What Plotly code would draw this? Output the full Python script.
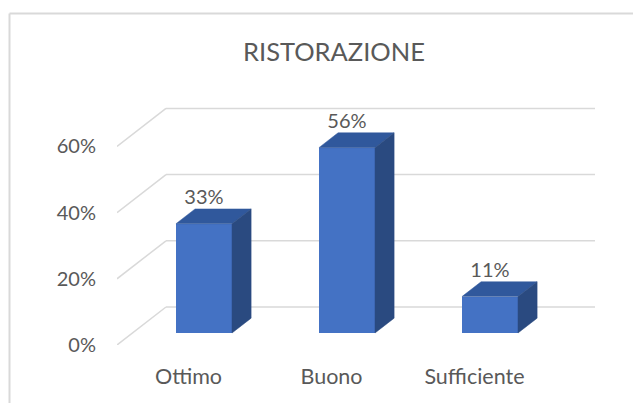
import plotly.graph_objects as go

# ---- data ----
categories = ["Ottimo", "Buono", "Sufficiente"]
values = [33, 56, 11]            # percent
tick_values = [0, 20, 40, 60]
title_text = "RISTORAZIONE"

# ---- layout geometry (pixels in the 641x403 window) ----
OFF = 8                          # page body margin of the html page
WIN_W, WIN_H = 641, 403
W, H = WIN_W - OFF, WIN_H - OFF  # figure size
PLOT_LEFT, PLOT_BOTTOM = 117, 345  # window px of front-plane origin
L_PX = PLOT_LEFT - OFF
B_PX = WIN_H - PLOT_BOTTOM
PX_PER_CAT = 143.0
PX_PER_PCT = 3.31
plot_w = W - L_PX
plot_h = H - B_PX

# depth vector (front plane -> back wall), in data units
DEPTH_PX = (49.0, 38.0)
Dx = DEPTH_PX[0] / PX_PER_CAT
Dy = DEPTH_PX[1] / PX_PER_PCT
BAR_FRONT = 0.316                # depth fraction of bar front face
BAR_DEPTH = 0.39                 # depth fraction occupied by the bar
BAR_W = 0.392

x_range = [-0.5, -0.5 + plot_w / PX_PER_CAT]
y_range = [0, plot_h / PX_PER_PCT]

TEXT = "#595959"
GRID = "#D9D9D9"
FRONT = "#4472C4"
TOP = "#30589C"
SIDE = "#2A4A80"
FONT = "Lato"

fig = go.Figure()

# bar front faces
fx = BAR_FRONT * Dx
fy = BAR_FRONT * Dy
bdx = BAR_DEPTH * Dx
bdy = BAR_DEPTH * Dy
xs = [i + fx for i in range(len(categories))]

fig.add_trace(go.Bar(
    x=xs, y=values, base=fy, width=BAR_W,
    marker=dict(color=FRONT, line=dict(width=0)),
    hovertext=categories, hoverinfo="text+y", showlegend=False,
))

# top and side faces
for xc, v in zip(xs, values):
    x0, x1 = xc - BAR_W / 2, xc + BAR_W / 2
    yb, yt = fy, fy + v
    fig.add_trace(go.Scatter(
        x=[x0, x1, x1 + bdx, x0 + bdx, x0],
        y=[yt, yt, yt + bdy, yt + bdy, yt],
        fill="toself", fillcolor=TOP, mode="lines",
        line=dict(width=0.5, color=TOP), hoverinfo="skip", showlegend=False,
    ))
    fig.add_trace(go.Scatter(
        x=[x1, x1 + bdx, x1 + bdx, x1, x1],
        y=[yb, yb + bdy, yt + bdy, yt, yb],
        fill="toself", fillcolor=SIDE, mode="lines",
        line=dict(width=0.5, color=SIDE), hoverinfo="skip", showlegend=False,
    ))

# data labels
fig.add_trace(go.Scatter(
    x=xs, y=[v + fy + bdy for v in values],
    text=[f"{v}%" for v in values], mode="text", textposition="top center",
    textfont=dict(family=FONT, size=20, color=TEXT),
    hoverinfo="skip", showlegend=False,
))

# gridlines: back wall + diagonal side wall
shapes = []
n = len(categories)
for t in tick_values:
    shapes.append(dict(type="line", xref="x", yref="y", layer="below",
                       x0=-0.5 + Dx, x1=n - 0.5 + Dx, y0=t + Dy, y1=t + Dy,
                       line=dict(color=GRID, width=1.5)))
    shapes.append(dict(type="line", xref="x", yref="y", layer="below",
                       x0=-0.5, x1=-0.5 + Dx, y0=t, y1=t + Dy,
                       line=dict(color=GRID, width=1.5)))

# chart border (left and top), window px -> paper coords
bx = (9.5 - PLOT_LEFT) / plot_w
by = (PLOT_BOTTOM - 13.5) / plot_h
ybot = (PLOT_BOTTOM - WIN_H - 10) / plot_h
shapes.append(dict(type="line", xref="paper", yref="paper",
                   x0=bx, x1=bx, y0=ybot, y1=by, line=dict(color=GRID, width=2)))
shapes.append(dict(type="line", xref="paper", yref="paper",
                   x0=bx, x1=1.05, y0=by, y1=by, line=dict(color=GRID, width=2)))

fig.update_layout(
    width=W, height=H,
    margin=dict(l=L_PX, r=0, t=0, b=B_PX, pad=0),
    paper_bgcolor="white", plot_bgcolor="white",
    shapes=shapes,
    title=dict(text=title_text, x=(334 - OFF) / W, xanchor="center", xref="container",
               y=1 - (52.5 - OFF) / H, yanchor="middle", yref="container",
               font=dict(family=FONT, size=25.5, color=TEXT)),
    xaxis=dict(range=x_range, tickmode="array", tickvals=list(range(n)),
               ticktext=categories, showgrid=False, zeroline=False,
               showline=False, ticks="", ticklabelstandoff=16,
               tickfont=dict(family=FONT, size=21.5, color=TEXT), fixedrange=True),
    yaxis=dict(range=y_range, tickmode="array", tickvals=tick_values,
               ticktext=[f"{t}%" for t in tick_values], showgrid=False,
               zeroline=False, showline=False, ticks="", ticklabelstandoff=20,
               tickfont=dict(family=FONT, size=20, color=TEXT), fixedrange=True),
    bargap=0,
)

fig.write_html("out.html")
